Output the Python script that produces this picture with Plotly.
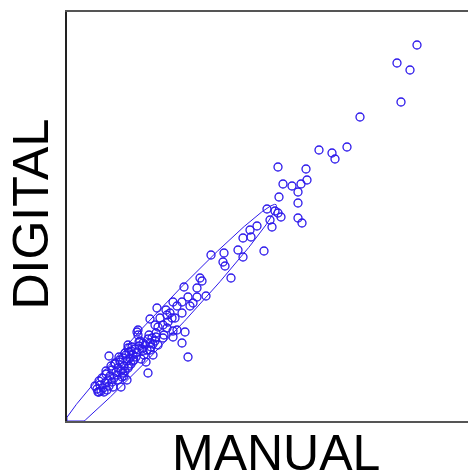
import numpy as np
import plotly.graph_objects as go

# Values (arbitrary units, no tick labels shown)
manual = [350, 330, 343, 334, 293, 280, 252, 265, 268, 211, 239, 240, 216, 225, 234, 231,
          212, 231, 200, 208, 211, 203, 214, 231, 235, 190, 205, 183, 176, 184, 171, 176,
          197, 144, 157, 156, 158, 164, 133, 135, 117, 130, 139, 121, 130, 126, 123, 115,
          106, 110, 90, 99, 103, 100, 115, 108, 93, 83, 101, 96, 91, 100, 106, 118,
          70, 71, 82, 89, 97, 85, 96, 106, 115, 61, 76, 83, 121, 42, 81, 54, 32,
          30, 33, 36, 32, 38, 41, 35, 43, 39, 45, 47, 42, 49, 37, 45, 51, 54, 48, 53,
          57, 60, 56, 52, 59, 63, 62, 66, 64, 58, 61, 68, 65, 70, 55, 51, 72, 75, 78,
          73, 80, 84, 77, 81, 86, 88, 91, 89, 69, 74, 86, 79, 71, 88, 105, 110, 61,
          31, 60, 28, 34, 40, 46,
          44, 50, 56, 62, 67, 48, 53, 58, 64, 76, 83, 39, 57, 66, 72]
digital = [376, 358, 351, 319, 304, 274, 271, 268, 262, 254, 252, 241, 237, 235, 237, 229,
           224, 218, 212, 210, 208, 201, 204, 203, 198, 195, 194, 191, 183, 184, 171, 164,
           170, 166, 168, 159, 155, 143, 143, 140, 134, 133, 125, 124, 124, 118, 115, 119,
           119, 115, 113, 111, 108, 106, 108, 103, 103, 102, 99, 96, 94, 93, 90, 89,
           89, 86, 86, 88, 86, 83, 83, 84, 78, 76, 78, 78, 64, 65, 48, 34, 29,
           32, 36, 33, 40, 38, 41, 43, 45, 47, 39, 43, 35, 49, 29, 51, 53, 50, 57, 59,
           55, 60, 63, 64, 66, 63, 69, 66, 57, 50, 53, 72, 74, 69, 44, 41, 75, 72, 76,
           80, 71, 74, 66, 82, 77, 80, 76, 84, 64, 62, 66, 59, 91, 96, 103, 91, 73,
           29, 41, 35, 30, 31, 34,
           55, 46, 48, 55, 61, 58, 61, 68, 70, 70, 71, 50, 45, 60, 79]

# Ellipse parameters
ell_center = (97.5, 97.5)
ell_semi_major = 163.0
ell_semi_minor = 13.0
ell_angle_deg = 46.8

x_range = [0, 401]
y_range = [0, 409]

blue = "rgb(45,25,235)"

t = np.linspace(0, 2 * np.pi, 400)
th = np.deg2rad(ell_angle_deg)
ex = ell_center[0] + ell_semi_major * np.cos(t) * np.cos(th) - ell_semi_minor * np.sin(t) * np.sin(th)
ey = ell_center[1] + ell_semi_major * np.cos(t) * np.sin(th) + ell_semi_minor * np.sin(t) * np.cos(th)
ex = np.maximum(ex, x_range[0])
ey = np.maximum(ey, y_range[0])

fig = go.Figure()
fig.add_trace(go.Scatter(x=ex, y=ey, mode="lines",
                         line=dict(color=blue, width=1), hoverinfo="skip"))
fig.add_trace(go.Scatter(x=manual, y=digital, mode="markers",
                         marker=dict(symbol="circle-open", size=8,
                                     color=blue, line=dict(width=1.3, color=blue))))

fig.update_layout(
    width=469, height=473,
    margin=dict(l=67, r=1, t=12, b=52),
    paper_bgcolor="white", plot_bgcolor="white",
    showlegend=False,
    font=dict(family="Liberation Sans, Arial, sans-serif", color="black"),
    xaxis=dict(range=x_range, showgrid=False, zeroline=False, showticklabels=False,
               ticks="", showline=True, linecolor="#555", linewidth=2, mirror=True,
               layer="below traces"),
    yaxis=dict(range=y_range, showgrid=False, zeroline=False, showticklabels=False,
               ticks="", showline=True, linecolor="#222", linewidth=1.5, mirror=False,
               layer="below traces"),
    annotations=[
        dict(text="MANUAL", xref="paper", yref="paper", x=0.52, y=-0.078,
             xanchor="center", yanchor="middle", showarrow=False,
             font=dict(size=50, color="black")),
        dict(text="DIGITAL", xref="paper", yref="paper", x=-0.09, y=0.507,
             xanchor="center", yanchor="middle", showarrow=False, textangle=-90,
             font=dict(size=50, color="black")),
    ],
)

fig.write_html("out.html", config={"displayModeBar": False},
               post_script="document.body.style.margin='0';document.body.style.overflow='hidden';")
